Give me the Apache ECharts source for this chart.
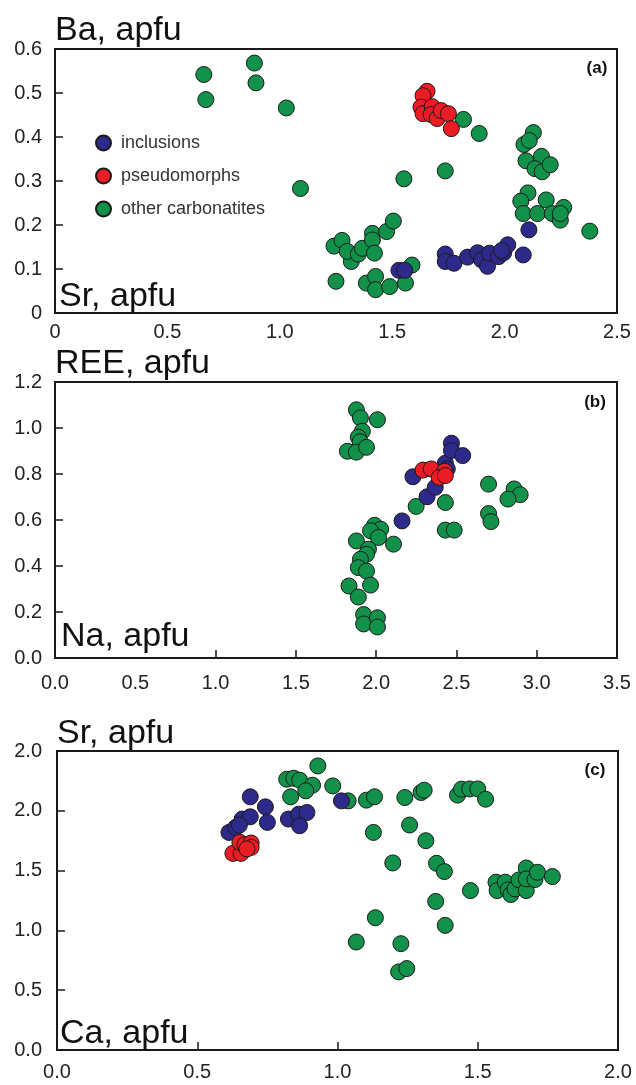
<!DOCTYPE html>
<html>
<head>
<meta charset="utf-8">
<script src="https://cdn.jsdelivr.net/npm/echarts@6/dist/echarts.min.js"></script>
<style>
  html, body { margin: 0; padding: 0; background: #fff; }
  #chart { width: 636px; height: 1085px; }
</style>
</head>
<body>
<div id="chart"></div>
<script>
// panel (a): Sr (x) vs Ba (y), apfu
const aInclusions = [[1.53,0.097],[1.556,0.097],[1.736,0.134],[1.736,0.117],[1.775,0.113],[1.835,0.127],
  [1.88,0.137],[1.897,0.121],[1.924,0.106],[1.933,0.136],[1.973,0.128],[1.996,0.137],[2.014,0.155],
  [1.987,0.142],[2.083,0.132],[2.108,0.189]]
const aPseudo = [[1.655,0.504],[1.637,0.494],[1.628,0.468],[1.637,0.453],[1.678,0.469],[1.673,0.451],
  [1.70,0.442],[1.718,0.46],[1.75,0.453],[1.763,0.419]]
const aOther = [[0.662,0.542],[0.671,0.485],[0.887,0.568],[0.894,0.523],[1.029,0.466],[1.092,0.283],
  [1.817,0.44],[1.887,0.408],[1.736,0.323],[1.552,0.305],[2.128,0.41],[2.086,0.383],[2.11,0.392],
  [2.164,0.356],[2.095,0.346],[2.135,0.328],[2.167,0.321],[2.203,0.337],[2.104,0.273],[2.072,0.254],
  [2.083,0.226],[2.146,0.226],[2.185,0.257],[2.212,0.226],[2.248,0.211],[2.263,0.24],[2.248,0.226],
  [2.379,0.186],[1.241,0.152],[1.277,0.165],[1.318,0.117],[1.30,0.14],[1.349,0.134],[1.367,0.147],
  [1.412,0.181],[1.412,0.166],[1.421,0.136],[1.475,0.185],[1.505,0.209],[1.25,0.072],[1.385,0.068],
  [1.426,0.083],[1.426,0.053],[1.489,0.06],[1.559,0.068],[1.588,0.109]]

// panel (b): Na (x) vs REE (y), apfu
const bInclusions = [[2.161,0.596],[2.229,0.788],[2.317,0.701],[2.368,0.742],[2.431,0.847],[2.469,0.934],
  [2.469,0.902],[2.539,0.88],[2.443,0.822]]
const bPseudo = [[2.292,0.817],[2.343,0.822],[2.426,0.812],[2.393,0.785],[2.431,0.793]]
const bOther = [[1.877,1.079],[1.902,1.044],[2.008,1.036],[1.914,0.986],[1.889,0.96],[1.90,0.94],
  [1.821,0.899],[1.877,0.895],[1.94,0.916],[2.70,0.756],[2.859,0.735],[2.897,0.71],[2.821,0.691],
  [2.70,0.628],[2.715,0.593],[2.249,0.659],[2.431,0.676],[2.431,0.556],[2.486,0.556],[1.99,0.577],
  [2.028,0.56],[1.965,0.553],[2.015,0.524],[2.108,0.495],[1.877,0.509],[1.952,0.473],[1.94,0.451],
  [1.902,0.429],[1.889,0.393],[1.94,0.378],[1.965,0.317],[1.831,0.313],[1.889,0.265],[1.922,0.189],
  [1.922,0.148],[2.008,0.175],[2.008,0.135]]

// panel (c): Ca (x) vs Sr (y), apfu
const cInclusions = [[0.689,2.117],[0.743,2.033],[0.75,1.903],[0.613,1.819],[0.637,1.861],[0.66,1.931],
  [0.689,1.95],[0.65,1.88],[0.825,1.931],[0.862,1.972],[0.891,1.986],[0.865,1.875],[1.014,2.083]]
const cPseudo = [[0.627,1.644],[0.656,1.644],[0.652,1.736],[0.67,1.717],[0.692,1.731],[0.692,1.694],
  [0.677,1.681]]
const cOther = [[0.93,2.375],[0.819,2.264],[0.844,2.272],[0.865,2.256],[0.911,2.214],[0.887,2.167],
  [0.833,2.117],[0.983,2.208],[1.038,2.083],[1.103,2.089],[1.132,2.117],[1.24,2.111],[1.298,2.153],
  [1.309,2.172],[1.428,2.131],[1.442,2.181],[1.471,2.183],[1.50,2.183],[1.528,2.097],[1.128,1.819],
  [1.257,1.881],[1.315,1.75],[1.197,1.564],[1.353,1.561],[1.381,1.492],[1.474,1.333],[1.35,1.242],
  [1.384,1.042],[1.135,1.106],[1.067,0.903],[1.226,0.889],[1.218,0.653],[1.247,0.681],[1.565,1.403],
  [1.569,1.333],[1.598,1.403],[1.608,1.339],[1.618,1.30],[1.633,1.347],[1.647,1.422],[1.673,1.522],
  [1.673,1.333],[1.673,1.431],[1.704,1.425],[1.713,1.486],[1.766,1.45]]

const aTickLabels = ['0', '0.1', '0.2', '0.3', '0.4', '0.5', '0.6']
const cTickLabels = ['0.0', '0.5', '1.0', '1.5', '2.0', '2.0']

const groupNames = ['inclusions', 'pseudomorphs', 'other carbonatites']
const groupColors = ['#2e2a8c', '#ec1c24', '#12914a']

const font = "'Liberation Sans', Arial, sans-serif"
const ink = '#1a1a1a'

const chart = echarts.init(document.getElementById('chart'))

const dot = (g, idx, data, z) => ({
  type: 'scatter',
  name: groupNames[g],
  xAxisIndex: idx,
  yAxisIndex: idx,
  data: data,
  symbolSize: 16,
  z: z,
  itemStyle: { color: groupColors[g], borderColor: ink, borderWidth: 1, opacity: 1 },
  emphasis: { disabled: true }
})

const baseAxis = (idx, min, max, interval, margin, fmt, ticks) => ({
  type: 'value',
  gridIndex: idx,
  min: min,
  max: max,
  interval: interval,
  splitLine: { show: false },
  axisLine: { show: false },
  axisTick: ticks === false ? { show: false } :
    Object.assign({ inside: true, length: 8, lineStyle: { color: ink, width: 1.5 } },
      ticks ? { customValues: ticks } : {}),
  axisLabel: { fontFamily: font, fontSize: 20, color: '#222', margin: margin, formatter: fmt }
})

const one = v => v.toFixed(1)

// big axis names, y is the text baseline
const title = (text, x, y) => ({
  type: 'text', x: x, y: y - 11,
  style: { text: text, font: '34px ' + font, fill: '#111', verticalAlign: 'middle' }
})
const tag = (text, x, y) => ({
  type: 'text', x: x, y: y,
  style: { text: text, font: 'bold 17px ' + font, fill: '#111', align: 'center', verticalAlign: 'middle' }
})

const option = {
  backgroundColor: '#fff',
  animation: false,
  grid: [
    { left: 55, top: 49, width: 562, height: 264, show: true, borderColor: ink, borderWidth: 2 },
    { left: 55, top: 382, width: 562, height: 276, show: true, borderColor: ink, borderWidth: 2 },
    { left: 57, top: 751, width: 561, height: 299, show: true, borderColor: ink, borderWidth: 2 }
  ],
  xAxis: [
    baseAxis(0, 0, 2.5, 0.5, 9, v => (v === 0 ? '0' : one(v)), false),
    baseAxis(1, 0, 3.5, 0.5, 15, one, [1, 1.5, 2, 2.5, 3]),
    baseAxis(2, 0, 2, 0.5, 12, one, [0.5, 1, 1.5])
  ],
  yAxis: [
    baseAxis(0, 0, 0.6, 0.1, 13, v => aTickLabels[Math.round(v * 10)]),
    baseAxis(1, 0, 1.2, 0.2, 13, one),
    baseAxis(2, 0, 2.5, 0.5, 15, v => cTickLabels[Math.round(v * 2)])
  ],
  legend: {
    data: groupNames,
    orient: 'vertical',
    left: 95,
    top: 134,
    padding: 0,
    itemWidth: 15,
    itemHeight: 15,
    itemGap: 15,
    icon: 'circle',
    textStyle: { fontFamily: font, fontSize: 18, color: '#333', padding: [0, 0, 0, 5] }
  },
  graphic: [
    title('Ba, apfu', 55, 42),
    title('Sr, apfu', 59, 308),
    title('REE, apfu', 55, 375),
    title('Na, apfu', 61, 648),
    title('Sr, apfu', 57, 745),
    title('Ca, apfu', 60, 1045),
    tag('(a)', 597, 68),
    tag('(b)', 595, 402),
    tag('(c)', 595, 770)
  ],
  series: [
    dot(2, 0, aOther, 2), dot(0, 0, aInclusions, 3), dot(1, 0, aPseudo, 4),
    dot(2, 1, bOther, 2), dot(0, 1, bInclusions, 3), dot(1, 1, bPseudo, 4),
    dot(2, 2, cOther, 2), dot(0, 2, cInclusions, 3), dot(1, 2, cPseudo, 4)
  ]
}

chart.setOption(option)
</script>
</body>
</html>
